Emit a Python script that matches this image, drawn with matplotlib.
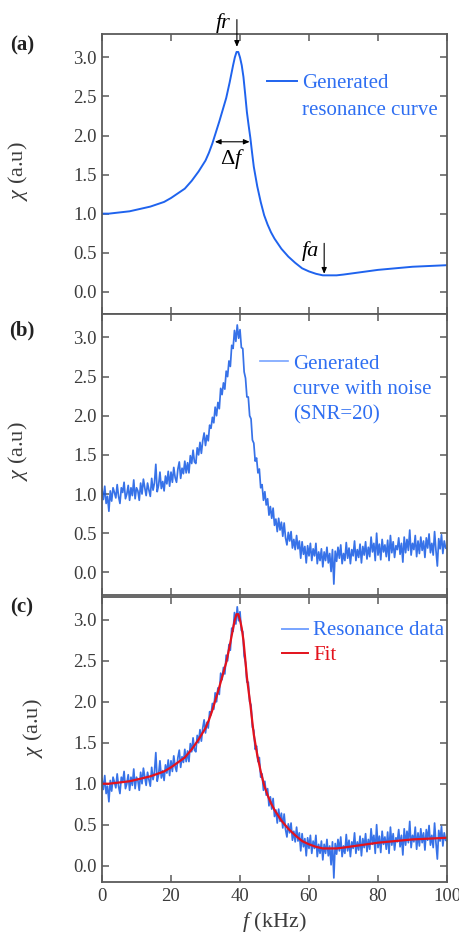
import matplotlib
matplotlib.use("Agg")
import matplotlib.pyplot as plt
import numpy as np

FONT = "Liberation Serif"
plt.rcParams["font.family"] = [FONT, "DejaVu Serif"]
plt.rcParams["mathtext.fontset"] = "custom"
plt.rcParams["mathtext.rm"] = FONT
plt.rcParams["mathtext.it"] = FONT + ":italic"

# ── Data ──────────────────────────────────────────────────────────────────────
# smooth resonance curve, kHz / a.u.
f_smooth = [0, 2, 4, 6, 8, 10, 12, 14, 16, 18, 20, 22, 24, 26, 28, 30, 31, 32,
            33, 34, 35, 36, 37, 38, 38.5, 39, 39.5, 40, 40.5, 41, 41.5, 42,
            42.5, 43, 43.5, 44, 45, 46, 47, 48, 49, 50, 52, 54, 56, 58, 60,
            62, 64, 66, 68, 70, 75, 80, 85, 90, 95, 100]
chi_smooth = [1.00, 1.00, 1.01, 1.02, 1.03, 1.05, 1.07, 1.09, 1.12, 1.15, 1.20,
              1.26, 1.32, 1.42, 1.54, 1.68, 1.78, 1.90, 2.04, 2.18, 2.33, 2.48,
              2.68, 2.90, 3.00, 3.07, 3.07, 3.00, 2.90, 2.75, 2.53, 2.30, 2.13,
              1.97, 1.78, 1.60, 1.35, 1.15, 0.98, 0.86, 0.76, 0.68, 0.55, 0.45,
              0.37, 0.30, 0.26, 0.23, 0.21, 0.21, 0.21, 0.22, 0.25, 0.28, 0.30,
              0.32, 0.33, 0.34]

# noisy curve, one value every 0.4 kHz from 0 to 100 kHz
chi_noisy = [
    1.06, 0.93, 1.10, 0.88, 0.97, 0.78, 1.04, 0.91, 1.08, 1.02,
    0.95, 1.12, 0.97, 0.88, 1.08, 1.02, 1.15, 0.94, 1.00, 1.11,
    0.92, 1.08, 0.98, 1.18, 0.94, 1.08, 1.04, 0.92, 1.14, 1.00,
    1.19, 1.08, 0.98, 1.14, 1.05, 0.97, 1.20, 1.05, 1.14, 1.38,
    1.03, 1.11, 1.28, 1.07, 1.16, 1.04, 1.23, 1.13, 1.29, 1.10,
    1.28, 1.15, 1.34, 1.21, 1.15, 1.32, 1.41, 1.20, 1.33, 1.26,
    1.42, 1.27, 1.40, 1.27, 1.49, 1.39, 1.56, 1.41, 1.39, 1.59,
    1.50, 1.66, 1.52, 1.68, 1.78, 1.62, 1.75, 1.68, 1.88, 1.84,
    1.98, 1.91, 2.11, 2.00, 2.17, 2.09, 2.35, 2.27, 2.42, 2.34,
    2.57, 2.50, 2.70, 2.63, 2.90, 2.86, 3.09, 2.95, 3.16, 2.99,
    3.10, 2.87, 2.86, 2.56, 2.48, 2.24, 2.24, 2.00, 1.96, 1.69,
    1.65, 1.42, 1.46, 1.27, 1.32, 1.08, 1.12, 0.92, 1.03, 0.86,
    0.94, 0.73, 0.84, 0.69, 0.82, 0.60, 0.68, 0.52, 0.69, 0.54,
    0.64, 0.46, 0.63, 0.44, 0.35, 0.51, 0.40, 0.52, 0.31, 0.42,
    0.29, 0.47, 0.30, 0.40, 0.18, 0.39, 0.23, 0.33, 0.12, 0.34,
    0.21, 0.37, 0.15, 0.30, 0.21, 0.37, 0.11, 0.26, 0.15, 0.30,
    0.07, 0.26, 0.15, 0.32, 0.12, 0.24, 0.01, 0.29, -0.15, 0.27,
    0.14, 0.32, 0.18, 0.35, 0.11, 0.24, 0.15, 0.38, 0.18, 0.31,
    0.11, 0.29, 0.21, 0.40, 0.15, 0.29, 0.19, 0.36, 0.12, 0.33,
    0.22, 0.39, 0.17, 0.32, 0.20, 0.45, 0.26, 0.37, 0.15, 0.50,
    0.22, 0.36, 0.16, 0.42, 0.26, 0.35, 0.20, 0.41, 0.15, 0.47,
    0.25, 0.39, 0.19, 0.34, 0.29, 0.44, 0.23, 0.37, 0.13, 0.45,
    0.25, 0.42, 0.28, 0.54, 0.22, 0.37, 0.29, 0.47, 0.20, 0.40,
    0.24, 0.45, 0.28, 0.40, 0.19, 0.44, 0.31, 0.49, 0.25, 0.37,
    0.22, 0.52, 0.28, 0.08, 0.43, 0.30, 0.48, 0.24, 0.40, 0.31,
    0.30,
]
f_noisy = np.linspace(0, 100, len(chi_noisy))

# ── Style ─────────────────────────────────────────────────────────────────────
C_CURVE = "#1f63ee"
C_NOISE = "#1459e4"
C_NOISE_LEG = "#78a4ff"
C_TEXT_BLUE = "#2f6ff2"
C_FIT = "#e3121c"
C_AX = "#5a5a5a"
C_TICK = "#3c3c3c"

W, H = 460, 934
fig = plt.figure(figsize=(W / 100, H / 100), dpi=100, facecolor="white")


def make_ax(top_px, bot_px, ylim):
    ax = fig.add_axes([102 / W, 1 - bot_px / H, 345 / W, (bot_px - top_px) / H])
    ax.set_xlim(0, 100)
    ax.set_ylim(*ylim)
    ax.set_xticks([0, 20, 40, 60, 80, 100])
    ax.set_yticks([0, 0.5, 1.0, 1.5, 2.0, 2.5, 3.0])
    ax.set_yticklabels(["0.0", "0.5", "1.0", "1.5", "2.0", "2.5", "3.0"])
    ax.tick_params(direction="in", length=5, width=1.1, color=C_AX,
                   top=True, right=True, labelsize=13.5, labelcolor=C_TICK, pad=4)
    for s in ax.spines.values():
        s.set_color(C_AX)
        s.set_linewidth(1.3)
    ax.set_ylabel(r"$\chi$ (a.u)", fontsize=16, color=C_TICK)
    return ax


ax_a = make_ax(34, 314, (-0.285, 3.30))
ax_b = make_ax(314, 595, (-0.29, 3.30))
ax_c = make_ax(597, 882, (-0.2, 3.28))
for ax in (ax_a, ax_b):
    ax.tick_params(labelbottom=False)
ax_a.yaxis.set_label_coords(-0.21, 0.51)
ax_b.yaxis.set_label_coords(-0.21, 0.51)
ax_c.yaxis.set_label_coords(-0.165, 0.54)
ax_c.set_xlabel(r"$f$ (kHz)", fontsize=16, color=C_TICK, labelpad=4)

# ── Panel (a) ─────────────────────────────────────────────────────────────────
ax_a.plot(f_smooth, chi_smooth, color=C_CURVE, lw=1.4)
ax_a.plot([47.8, 56.5], [2.70, 2.70], color=C_CURVE, lw=1.4)
ax_a.text(58.0, 2.66, "Generated", color=C_TEXT_BLUE, fontsize=15, va="center")
ax_a.text(58.0, 2.32, "resonance curve", color=C_TEXT_BLUE, fontsize=15, va="center")

ax_a.annotate("", xy=(39.1, 3.10), xytext=(39.1, 3.52),
              arrowprops=dict(arrowstyle="-|>,head_length=0.35,head_width=0.15",
                              color="black", lw=0.8), annotation_clip=False)
ax_a.text(35.0, 3.44, "fr", fontsize=16, style="italic", ha="center",
          va="center", clip_on=False)
ax_a.annotate("", xy=(32.7, 1.92), xytext=(42.8, 1.92),
              arrowprops=dict(arrowstyle="<|-|>,head_length=0.35,head_width=0.15",
                              color="black", lw=0.8, shrinkA=0, shrinkB=0))
ax_a.text(37.8, 1.70, r"$\Delta\mathit{f}$", fontsize=16, ha="center", va="center")
ax_a.annotate("", xy=(64.4, 0.23), xytext=(64.4, 0.62),
              arrowprops=dict(arrowstyle="-|>,head_length=0.35,head_width=0.15",
                              color="black", lw=0.8, shrinkA=0, shrinkB=0))
ax_a.text(60.3, 0.52, "fa", fontsize=16, style="italic", ha="center", va="center")

# ── Panel (b) ─────────────────────────────────────────────────────────────────
ax_b.plot(f_noisy, chi_noisy, color=C_NOISE, lw=1.25, alpha=0.85)
ax_b.plot([45.8, 53.9], [2.70, 2.70], color=C_NOISE_LEG, lw=1.2)
ax_b.text(55.4, 2.66, "Generated", color=C_TEXT_BLUE, fontsize=15, va="center")
ax_b.text(55.4, 2.34, "curve with noise", color=C_TEXT_BLUE, fontsize=15, va="center")
ax_b.text(55.4, 2.01, "(SNR=20)", color=C_TEXT_BLUE, fontsize=15, va="center")

# ── Panel (c) ─────────────────────────────────────────────────────────────────
ax_c.plot(f_noisy, chi_noisy, color=C_NOISE, lw=1.25, alpha=0.85)
ax_c.plot(f_smooth, chi_smooth, color=C_FIT, lw=1.6)
ax_c.plot([52.2, 59.7], [2.89, 2.89], color=C_NOISE_LEG, lw=1.4)
ax_c.text(61.2, 2.87, "Resonance data", color=C_TEXT_BLUE, fontsize=15, va="center")
ax_c.plot([52.2, 59.7], [2.60, 2.60], color=C_FIT, lw=1.4)
ax_c.text(61.2, 2.57, "Fit", color=C_FIT, fontsize=15, va="center")

# panel letters
for lbl, y in (("(a)", 45), ("(b)", 330), ("(c)", 607)):
    fig.text(22 / W, 1 - y / H, lbl, fontsize=15, fontweight="bold",
             ha="center", va="center", color="#222222")

fig.savefig("out.png", dpi=100, facecolor="white")
